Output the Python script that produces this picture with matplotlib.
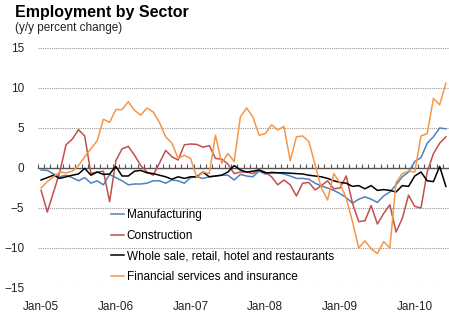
import numpy as np
import pandas as pd
import matplotlib
matplotlib.use("Agg")
import matplotlib.pyplot as plt

# Monthly y/y percent change, Jan-05 .. Jun-10
months = pd.date_range("2005-01-01", periods=66, freq="MS")
tick_labels = ["Jan-05", "Jan-06", "Jan-07", "Jan-08", "Jan-09", "Jan-10"]

manufacturing = [
    -0.25, -0.3, -0.75, -1.1, -0.9, -1.2, -1.6, -1.2, -1.9, -1.6, -2.1, -0.8,
    -1.2, -1.6, -2.1, -2.0, -2.0, -1.9, -1.6, -1.6, -1.9, -1.5, -1.6, -1.9,
    -1.2, -1.1, -1.3, -1.1, -1.0, -0.9, -0.9, -1.5, -0.8, -1.0, -1.1, -0.4,
    -0.75, -0.5, -0.6, -0.75, -1.0, -1.3, -1.3, -1.4, -1.9, -2.25, -2.5, -2.8,
    -3.2, -3.7, -4.4, -3.9, -3.6, -3.9, -4.3, -3.5, -3.0, -2.1, -1.1, -0.5,
    0.8, 1.3, 3.1, 3.9, 5.0, 4.9,
]
construction = [
    -2.8, -5.5, -3.0, -0.5, 2.9, 3.6, 4.8, 4.0, -0.7, -0.5, -0.4, -4.2,
    0.9, 2.4, 2.7, 1.6, 0.3, -0.5, -0.9, 0.6, 2.2, 1.4, 1.0, 2.9,
    3.0, 2.95, 2.6, 2.8, 1.2, 1.1, 0.5, -0.7, -0.5, -0.5, -0.7, -0.25,
    -0.5, -1.1, -2.1, -1.5, -2.1, -3.5, -1.9, -1.8, -2.75, -2.2, -1.6, -2.6,
    -2.5, -1.0, -4.4, -6.7, -6.6, -4.7, -7.0, -5.7, -4.6, -8.0, -6.3, -3.4,
    -4.8, -5.0, -0.5, 1.8, 3.1, 3.9,
]
wholesale = [
    -1.5, -1.2, -0.9, -1.3, -1.1, -0.9, -0.75, -0.05, -0.9, -0.5, -0.8, -0.75,
    0.2, -1.0, -1.0, -0.4, -0.3, -0.6, -0.7, -0.9, -1.1, -1.4, -1.1, -1.3,
    -1.1, -1.1, -0.5, -1.1, -1.0, -0.9, -0.5, 0.3, -0.25, -0.5, -0.4, -0.25,
    -0.6, -0.6, -0.6, -0.6, -0.65, -0.7, -0.75, -0.9, -1.0, -1.1, -1.3, -1.6,
    -1.8, -1.9, -2.3, -2.2, -2.6, -2.2, -2.8, -2.7, -2.8, -3.0, -2.2, -2.3,
    -1.0, -0.5, -1.6, -1.7, 0.2, -2.3,
]
financial = [
    -2.5, -1.7, -1.1, -0.5, -0.6, -0.4, 0.3, 1.4, 2.4, 3.4, 6.1, 5.7,
    7.3, 7.3, 8.3, 7.2, 6.6, 7.5, 7.0, 5.7, 3.9, 3.1, 1.2, 1.6,
    1.2, -1.2, -0.5, -0.7, 4.1, 0.6, 1.8, 0.8, 6.4, 7.5, 6.4, 4.1,
    4.3, 5.4, 4.75, 5.2, 0.9, 3.9, 4.0, 3.3, 0.4, -2.5, -4.0, -0.7,
    -1.9, -3.8, -6.7, -10.0, -9.1, -10.1, -10.7, -9.2, -10.0, -1.8, -0.7, -0.4,
    -0.5, 4.0, 4.3, 8.7, 7.9, 10.6,
]

series = [
    ("Manufacturing", manufacturing, "#4F81BD"),
    ("Construction", construction, "#C0504D"),
    ("Whole sale, retail, hotel and restaurants", wholesale, "#000000"),
    ("Financial services and insurance", financial, "#F79646"),
]

plt.rcParams["font.family"] = ["Liberation Sans", "DejaVu Sans"]

fig = plt.figure(figsize=(4.49, 3.13), dpi=100)
ax = fig.add_axes([38 / 449, 25 / 313, 411 / 449, 240 / 313])

x = np.arange(len(months))
for name, vals, col in series:
    ax.plot(x, vals, color=col, lw=1.1, label=name, zorder=3)

ax.set_xlim(-0.5, len(months) - 0.5)
ax.set_ylim(-15, 15)
ax.set_yticks([-15, -10, -5, 0, 5, 10, 15])
ax.tick_params(axis="y", length=0, pad=10, labelsize=8.5, labelcolor="#222222")

for v in [-15, -10, -5, 5, 10, 15]:
    ax.axhline(v, color="#999999", lw=0.8, ls=(0, (1, 1)), zorder=1)

for s in ["top", "right", "left"]:
    ax.spines[s].set_visible(False)

# zero axis with month boundary ticks pointing up
ax.spines["bottom"].set_position(("data", 0))
ax.spines["bottom"].set_color("#555555")
ax.spines["bottom"].set_linewidth(1.0)
ax.spines["bottom"].set_zorder(2)
ax.set_xticks(np.arange(len(months) + 1) - 0.5)
ax.set_xticklabels([])
ax.tick_params(axis="x", direction="in", length=3, width=0.8, color="#555555")

# category labels along the bottom
jan_pos = [i for i, m in enumerate(months) if m.month == 1]
sec = ax.secondary_xaxis("bottom")
sec.spines["bottom"].set_visible(False)
sec.set_xticks(jan_pos)
sec.set_xticklabels(tick_labels)
sec.tick_params(length=0, pad=9, labelsize=8.5, labelcolor="#222222")

ax.legend(loc="upper left", bbox_to_anchor=(0.178, 0.33), frameon=False,
          fontsize=8.5, handlelength=1.1, handletextpad=0.2,
          labelspacing=0.75, borderpad=0, borderaxespad=0)

fig.text(15 / 449, 0.985, "Employment by Sector", fontsize=11.5,
         fontweight="bold", ha="left", va="top")
fig.text(15 / 449, 0.93, "(y/y percent change)", fontsize=8.5,
         ha="left", va="top", color="#222222")

fig.savefig("out.png", dpi=100)
